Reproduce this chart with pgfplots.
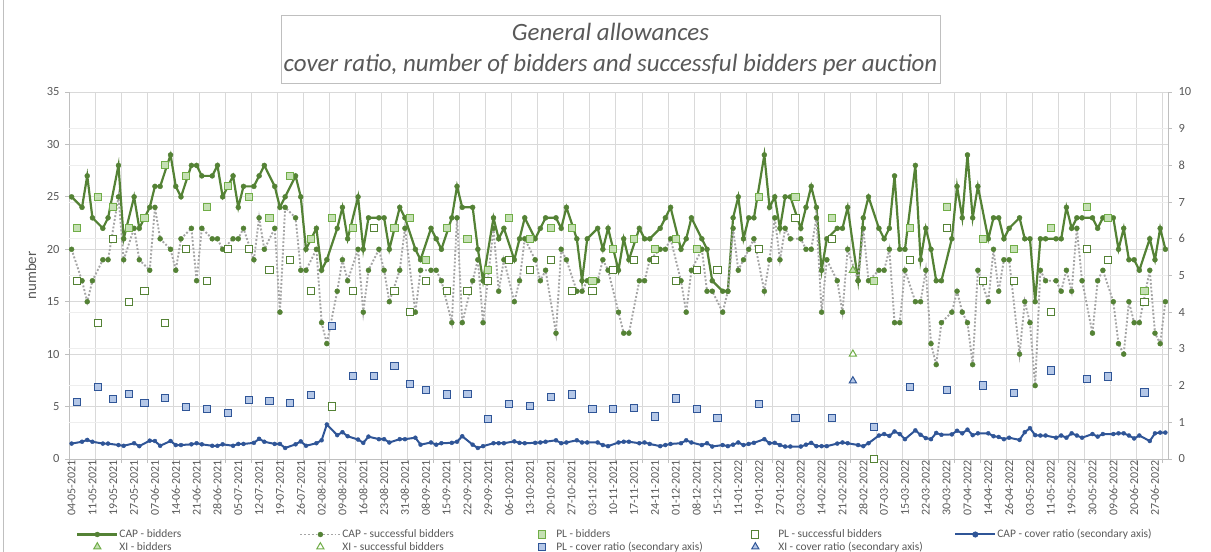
\documentclass[border=0pt]{standalone}
\usepackage{pgfplots}
\pgfplotsset{compat=1.18}
\usepackage{pgfplotstable}
\usepackage{fontspec}
\setmainfont{Carlito}
\definecolor{capgreen}{HTML}{548235}
\definecolor{plgreenfill}{HTML}{C5E0B4}
\definecolor{plgreen}{HTML}{70AD47}
\definecolor{capblue}{HTML}{2F5597}
\definecolor{plbluefill}{HTML}{B4C7E7}
\definecolor{dotgray}{HTML}{A5A5A5}
\definecolor{gridgray}{HTML}{D9D9D9}
\definecolor{lightgrid}{HTML}{EEEEEE}
\definecolor{txtgray}{HTML}{595959}
\definecolor{axgray}{HTML}{BFBFBF}

\pgfplotsset{
  legline/.style={legend image code/.code={\path[draw=none,fill=none] (0bp,-5bp) rectangle (40bp,5bp); \draw[mark repeat=2,mark phase=2,##1] plot coordinates {(0bp,0bp) (20bp,0bp) (40bp,0bp)};}},
  legmarkA/.style={legend image code/.code={\path[draw=none,fill=none] (0bp,-5bp) rectangle (40bp,5bp); \draw[##1] plot coordinates {(20bp,0bp)};}},
  legmarkB/.style={legend image code/.code={\path[draw=none,fill=none] (0bp,-5bp) rectangle (26bp,5bp); \draw[##1] plot coordinates {(13bp,0bp)};}},
  legmarkC/.style={legend image code/.code={\path[draw=none,fill=none] (0bp,-5bp) rectangle (30bp,5bp); \draw[##1] plot coordinates {(8bp,0bp)};}},
}

% CAP - bidders
\pgfplotstableread{
i v
0 25
2 24
3 27
4 23
6 22
7 23
9 28
10 21
12 25
13 22
15 24
16 26
17 26
19 29
20 26
21 25
23 28
24 28
25 27
27 27
28 28
29 25
31 27
32 24
33 26
35 26
36 27
37 28
39 26
40 24
41 25
43 27
44 25
45 20
47 22
48 18
49 19
51 22
52 24
53 21
55 25
56 20
57 23
59 23
60 23
61 20
63 24
64 23
66 20
67 19
69 22
70 21
71 20
73 23
74 26
75 24
77 24
78 20
79 17
81 23
82 21
83 22
85 19
86 21
87 23
89 21
90 22
91 23
93 23
94 22
95 24
97 21
98 17
99 21
101 22
102 20
103 22
105 18
106 21
107 19
109 22
110 21
111 21
113 22
114 23
115 24
117 20
118 21
119 23
121 21
122 20
123 17
125 16
126 16
127 23
128 25
129 21
130 23
131 23
133 29
134 24
135 25
136 22
137 25
138 25
140 22
141 24
142 26
143 24
144 18
145 21
147 22
148 22
149 24
151 17
152 23
153 25
155 22
156 21
157 22
158 27
159 20
160 20
162 28
163 19
164 22
165 20
166 17
167 17
169 21
170 26
171 23
172 29
173 23
174 26
176 21
177 23
178 23
179 21
180 22
182 23
183 21
184 21
185 15
186 21
187 21
189 21
190 21
191 24
192 22
193 23
194 23
196 23
197 22
198 23
200 23
201 20
202 22
203 19
204 19
205 18
207 21
208 19
209 22
210 20
}\capbid

% CAP - successful bidders
\pgfplotstableread{
i v
0 20
2 17
3 15
4 17
6 19
7 19
9 25
10 19
12 22
13 19
15 18
16 24
17 21
19 20
20 18
21 21
23 22
24 17
25 22
27 21
28 21
29 20
31 21
32 21
33 22
35 19
36 23
37 20
39 22
40 14
41 24
43 23
44 18
45 18
47 20
48 13
49 11
51 16
52 19
53 17
55 20
56 14
57 18
59 20
60 18
61 15
63 18
64 22
66 14
67 18
69 18
70 18
71 17
73 13
74 23
75 13
77 17
78 19
79 13
81 22
82 16
83 19
85 15
86 17
87 21
89 19
90 17
91 18
93 12
94 20
95 19
97 16
98 16
99 17
101 17
102 19
103 18
105 14
106 12
107 12
109 17
110 17
111 19
113 20
114 20
115 21
117 17
118 14
119 18
121 20
122 16
123 16
125 14
126 16
127 22
128 18
129 19
130 20
131 21
133 16
134 19
135 23
136 19
137 22
138 21
140 21
141 20
142 20
143 23
144 14
145 19
147 17
148 14
149 20
151 17
152 22
153 17
155 18
156 18
157 20
158 13
159 13
160 18
162 15
163 15
164 18
165 11
166 9
167 13
169 14
170 16
171 14
172 13
173 9
174 18
176 15
177 20
178 16
179 19
180 19
182 10
183 15
184 13
185 7
186 18
187 17
189 17
190 16
191 18
192 16
193 22
194 17
196 12
197 17
198 18
200 15
201 11
202 10
203 15
204 13
205 13
207 18
208 12
209 11
210 15
}\capsucc

% CAP - cover ratio (secondary axis)
\pgfplotstableread{
i v
0 0.42
2 0.47
3 0.52
4 0.47
6 0.42
7 0.42
9 0.38
10 0.36
12 0.43
13 0.35
15 0.50
16 0.49
17 0.36
19 0.49
20 0.38
21 0.38
23 0.40
24 0.43
25 0.40
27 0.36
28 0.36
29 0.40
31 0.36
32 0.41
33 0.41
35 0.44
36 0.55
37 0.47
39 0.41
40 0.41
41 0.30
43 0.40
44 0.48
45 0.36
47 0.43
48 0.51
49 0.94
51 0.65
52 0.73
53 0.62
55 0.53
56 0.44
57 0.61
59 0.54
60 0.54
61 0.45
63 0.54
64 0.54
66 0.58
67 0.39
69 0.45
70 0.39
71 0.43
73 0.44
74 0.47
75 0.62
77 0.39
78 0.30
79 0.35
81 0.43
82 0.43
83 0.43
85 0.48
86 0.44
87 0.43
89 0.44
90 0.45
91 0.47
93 0.51
94 0.43
95 0.45
97 0.51
98 0.45
99 0.45
101 0.45
102 0.38
103 0.35
105 0.45
106 0.47
107 0.47
109 0.43
110 0.45
111 0.41
113 0.35
114 0.38
115 0.41
117 0.43
118 0.51
119 0.45
121 0.38
122 0.43
123 0.34
125 0.38
126 0.35
127 0.39
128 0.45
129 0.38
130 0.41
131 0.44
133 0.54
134 0.43
135 0.44
136 0.38
137 0.34
138 0.34
140 0.34
141 0.39
142 0.44
143 0.35
144 0.35
145 0.35
147 0.42
148 0.45
149 0.43
151 0.38
152 0.35
153 0.43
155 0.64
156 0.68
157 0.63
158 0.75
159 0.68
160 0.54
162 0.78
163 0.66
164 0.57
165 0.54
166 0.71
167 0.66
169 0.67
170 0.77
171 0.70
172 0.80
173 0.65
174 0.70
176 0.70
177 0.62
178 0.60
179 0.54
180 0.58
182 0.52
183 0.73
184 0.84
185 0.65
186 0.64
187 0.64
189 0.58
190 0.64
191 0.58
192 0.70
193 0.64
194 0.58
196 0.68
197 0.61
198 0.68
200 0.68
201 0.70
202 0.70
203 0.64
204 0.56
205 0.64
207 0.49
208 0.70
209 0.72
210 0.72
}\capcover

% PL: bidders (b), successful bidders (s), cover ratio (c, secondary axis)
\pgfplotstableread{
i b s c
1 22 17 1.55
5 25 13 1.96
8 24 21 1.63
11 22 15 1.77
14 23 16 1.52
18 28 13 1.66
22 27 20 1.41
26 24 17 1.36
30 26 20 1.25
34 25 20 1.60
38 23 18 1.57
42 27 19 1.52
46 21 16 1.74
50 23 5 3.62
54 22 16 2.27
58 22 22 2.27
62 22 16 2.53
65 23 14 2.04
68 19 17 1.88
72 22 16 1.76
76 21 16 1.78
80 18 17 1.08
84 23 19 1.50
88 21 18 1.44
92 22 19 1.68
96 22 16 1.76
100 17 16 1.37
104 20 18 1.37
108 21 19 1.38
112 20 19 1.16
116 21 17 1.65
120 20 18 1.37
124 18 18 1.12
132 25 20 1.50
139 25 23 1.12
146 23 21 1.12
154 17 0 0.87
161 22 19 1.97
168 24 22 1.89
175 21 17 2.00
181 20 17 1.79
188 22 14 2.41
195 24 20 2.19
199 23 19 2.25
206 16 15 1.81
}\pldata

% XI: bidders (b), successful bidders (s), cover ratio (c, secondary axis)
\pgfplotstableread{
i b s c
150 18 10 2.13
}\xidata

\begin{document}
\begin{tikzpicture}
\path[use as bounding box] (0,0) rectangle (1211bp,552bp);
\draw[axgray, line width=0.8bp] (3.5bp,0) -- (3.5bp,552bp);

\begin{axis}[
  at={(69bp,93bp)}, anchor=south west,
  scale only axis, width=1099bp, height=367bp,
  xmin=-0.5, xmax=210.5, ymin=0, ymax=35,
  axis x line*=bottom, axis y line*=left,
  axis line style={axgray, line width=0.8bp},
  tick align=outside, major tick length=4bp,
  every tick/.style={axgray, line width=0.8bp},
  /pgf/number format/assume math mode=true,
  xtick={-0.5,4.5,...,210},
  xticklabels={},
  xmajorgrids, ymajorgrids,
  major grid style={gridgray, line width=0.8bp},
  extra x ticks={0,4,...,208},
  extra x tick labels={04-05-2021,11-05-2021,19-05-2021,27-05-2021,07-06-2021,14-06-2021,21-06-2021,28-06-2021,05-07-2021,12-07-2021,19-07-2021,26-07-2021,02-08-2021,09-08-2021,16-08-2021,23-08-2021,31-08-2021,08-09-2021,15-09-2021,22-09-2021,29-09-2021,06-10-2021,13-10-2021,20-10-2021,27-10-2021,03-11-2021,10-11-2021,17-11-2021,24-11-2021,01-12-2021,08-12-2021,15-12-2021,11-01-2022,19-01-2022,27-01-2022,03-02-2022,14-02-2022,21-02-2022,28-02-2022,07-03-2022,15-03-2022,22-03-2022,30-03-2022,07-04-2022,14-04-2022,26-04-2022,03-05-2022,11-05-2022,19-05-2022,30-05-2022,09-06-2022,20-06-2022,27-06-2022},
  extra x tick style={major tick length=0pt, grid=none},
  xticklabel style={rotate=90, anchor=east, font=\fontsize{12}{12}\selectfont, text=txtgray, inner sep=1bp},
  ytick={0,5,...,35},
  extra y ticks={3.5,7,10.5,14,17.5,21,24.5,28,31.5},
  extra y tick labels={},
  extra y tick style={major tick length=0pt, grid=major, major grid style={lightgrid, line width=0.8bp}},
  yticklabel style={font=\fontsize{12.5}{13}\selectfont, text=txtgray, xshift=-2bp},
  ylabel={number},
  every axis y label/.style={at={(axis description cs:-0.0346,0.5)}, rotate=90, anchor=center,
    font=\fontsize{15}{16}\selectfont, text=txtgray},
  legend columns=5,
  legend style={at={(axis description cs:0.0064,-0.189)}, anchor=north west, draw=none, fill=none,
    inner sep=0pt, column sep=0pt, row sep=0.5bp,
    font=\fontsize{11.5}{13}\selectfont, text=txtgray, nodes={inner sep=1bp}},
  legend cell align=left,
]
\addplot[capgreen, line width=2.2bp, mark=*, mark size=2.5bp, mark options={solid, fill=capgreen, draw=capgreen, line width=0.4bp}, legline]
  table[x=i, y=v] {\capbid};
\addlegendentry{\makebox[179bp][l]{CAP - bidders}}
\addplot[dotgray, line width=1.9bp, dash pattern=on 1.9bp off 1.9bp, mark=*, mark size=2.5bp, mark options={solid, fill=capgreen, draw=capgreen, line width=0.4bp}, legline]
  table[x=i, y=v] {\capsucc};
\addlegendentry{\makebox[186bp][l]{CAP - successful bidders}}
\addplot[only marks, mark=square*, mark size=3.6bp, mark options={fill=plgreenfill, draw=plgreen, line width=1bp}, legmarkB]
  table[x=i, y=b] {\pldata};
\addlegendentry{\makebox[190bp][l]{PL - bidders}}
\addplot[only marks, mark=square*, mark size=3.6bp, mark options={fill=white, draw=capgreen, line width=1bp}, legmarkC]
  table[x=i, y=s] {\pldata};
\addlegendentry{\makebox[175bp][l]{PL - successful bidders}}
\addlegendimage{capblue, line width=2bp, mark=*, mark size=2bp, mark options={fill=capblue, draw=capblue}, legline}
\addlegendentry{CAP - cover ratio (secondary axis)}
\addplot[only marks, mark=triangle*, mark size=4.2bp, mark options={fill=plgreenfill, draw=plgreen, line width=1bp}, legmarkA]
  table[x=i, y=b] {\xidata};
\addlegendentry{\makebox[179bp][l]{XI - bidders}}
\addplot[only marks, mark=triangle*, mark size=4.2bp, mark options={fill=white, draw=plgreen, line width=1bp}, legmarkA]
  table[x=i, y=s] {\xidata};
\addlegendentry{\makebox[186bp][l]{XI - successful bidders}}
\addlegendimage{only marks, mark=square*, mark size=3.6bp, mark options={fill=plbluefill, draw=capblue, line width=1bp}, legmarkB}
\addlegendentry{\makebox[190bp][l]{PL - cover ratio (secondary axis)}}
\addlegendimage{only marks, mark=triangle*, mark size=4.2bp, mark options={fill=plbluefill, draw=capblue, line width=1bp}, legmarkC}
\addlegendentry{\makebox[175bp][l]{XI - cover ratio (secondary axis)}}
\end{axis}

\begin{axis}[
  at={(69bp,93bp)}, anchor=south west,
  scale only axis, width=1099bp, height=367bp,
  xmin=-0.5, xmax=210.5, ymin=0, ymax=10,
  axis x line=none, axis y line*=right,
  axis line style={axgray, line width=0.8bp},
  tick align=outside, major tick length=4bp,
  every tick/.style={axgray, line width=0.8bp},
  /pgf/number format/assume math mode=true,
  ytick={0,1,...,10},
  yticklabel style={font=\fontsize{12.5}{13}\selectfont, text=txtgray, xshift=3bp},
]
\addplot[capblue, line width=2bp, mark=*, mark size=2bp, mark options={fill=capblue, draw=capblue, line width=0.4bp}]
  table[x=i, y=v] {\capcover};
\addplot[only marks, mark=square*, mark size=3.6bp, mark options={fill=plbluefill, draw=capblue, line width=1bp}]
  table[x=i, y=c] {\pldata};
\addplot[only marks, mark=triangle*, mark size=4.2bp, mark options={fill=plbluefill, draw=capblue, line width=1bp}]
  table[x=i, y=c] {\xidata};
\end{axis}

\node[draw=axgray, line width=0.8bp, fill=white, minimum width=659bp, minimum height=68bp, inner sep=0pt, align=center,
  font=\fontsize{25}{31}\selectfont\itshape, text=txtgray] at (610.5bp,503bp)
  {General allowances\\cover ratio, number of bidders and successful bidders per auction};
\end{tikzpicture}
\end{document}
